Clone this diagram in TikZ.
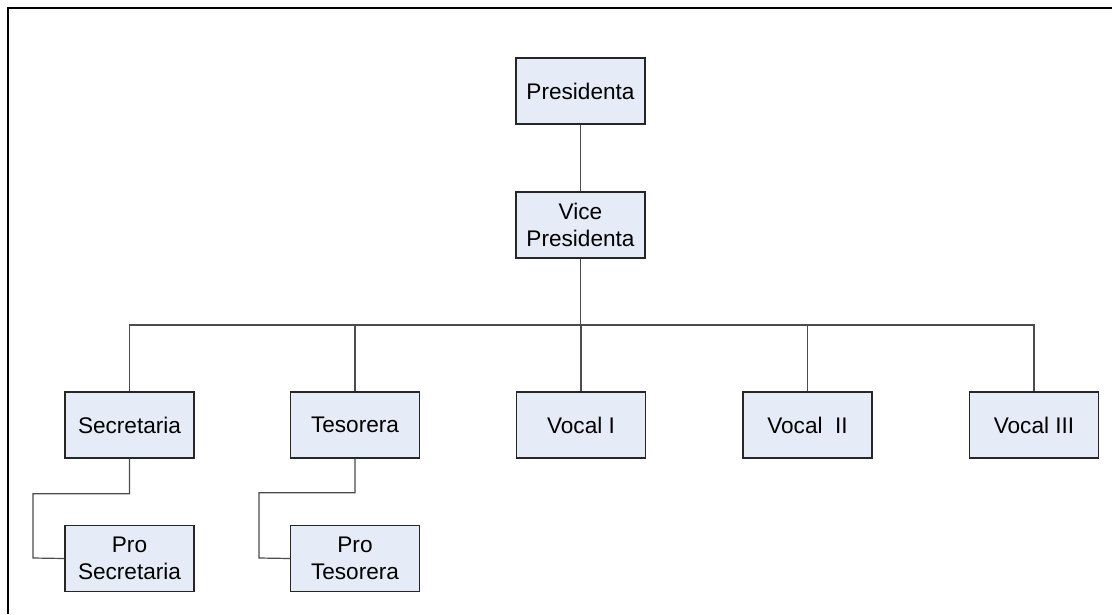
\documentclass[tikz,border=0pt]{standalone}
\usepackage{fontspec}
\setmainfont{Liberation Sans}
\begin{document}
\begin{tikzpicture}[x=1pt,y=-1pt,
  orgbox/.style={draw=black!85,line width=1.3pt,fill={rgb,255:red,230;green,236;blue,247},
    minimum width=129pt,minimum height=66pt,inner sep=0pt,align=center,
    font=\fontsize{22.6}{27}\selectfont},
  link/.style={draw=black!70,line width=1.2pt}]
\useasboundingbox (0,0) rectangle (1112,614);
\draw[line width=2pt,black] (8,614) -- (8,8) -- (1112,8);
\node[orgbox] (pres) at (580.5,91) {Presidenta};
\node[orgbox] (vice) at (580.5,225) {Vice\\Presidenta};
\node[orgbox] (sec) at (129.5,425) {Secretaria};
\node[orgbox] (tes) at (355,425) {Tesorera};
\node[orgbox] (v1) at (581,425) {Vocal I};
\node[orgbox] (v2) at (807.5,425) {Vocal\ \ II};
\node[orgbox] (v3) at (1034,425) {Vocal III};
\node[orgbox] (psec) at (129.5,558.5) {Pro\\Secretaria};
\node[orgbox] (ptes) at (355,558.5) {Pro\\Tesorera};
\coordinate (bus) at (580.5,325);
\draw[link] (pres) -- (vice);
\draw[link] (vice) -- (bus);
\draw[link] (sec.north) |- (bus);
\draw[link] (tes.north) |- (bus);
\draw[link] (v1.north) -- (v1.north |- bus);
\draw[link] (v2.north) |- (bus);
\draw[link] (v3.north) |- (bus);
\draw[link] (sec.south) -- ++(0,35) -| (33,558) -- (psec.west);
\draw[link] (tes.south) -- ++(0,34) -| (259,558) -- (ptes.west);
\end{tikzpicture}
\end{document}
